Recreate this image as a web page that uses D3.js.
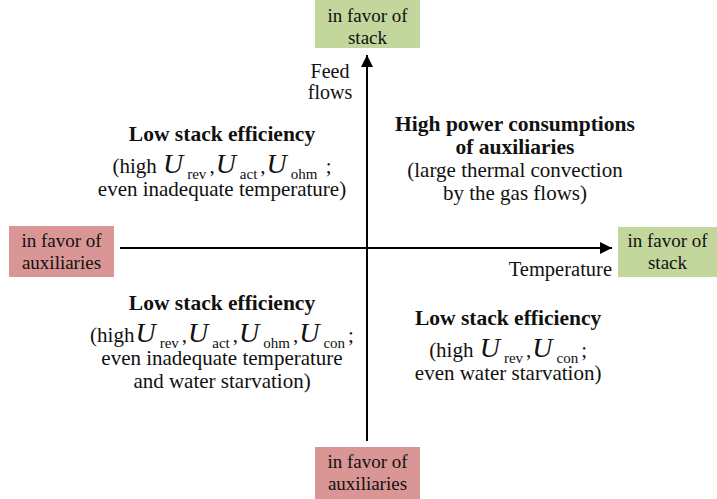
<!DOCTYPE html>
<html>
<head>
<meta charset="utf-8">
<script src="https://d3js.org/d3.v7.min.js"></script>
<style>
  body { margin: 0; background: #fff; }
</style>
</head>
<body>
<div id="viz"></div>
<script>
// axis direction labels
var axisLabels = ["Temperature", "Feed flows"];
// end boxes of the two axes
var boxSides = ["top", "right", "left", "bottom"];
var boxLines = [["in favor of", "stack"], ["in favor of", "stack"], ["in favor of", "auxiliaries"], ["in favor of", "auxiliaries"]];
var boxColors = ["#c3d69b", "#c3d69b", "#d99694", "#d99694"];
// quadrant anchors in axis units (x: temperature, y: feed flows)
var quadX = [-0.587, 0.604, -0.587, 0.576];
var quadY = [0.554, 0.606, -0.321, -0.399];
// quadrant text, each line is a list of [text, style] pieces
var quadLines = [
  [
    [["Low stack efficiency", "b"]],
    [["(high ", "n"], ["U", "U"], ["rev", "s"], [",", "n"], ["U", "U"], ["act", "s"], [",", "n"], ["U", "U"], ["ohm", "s"], [" ;", "n"]],
    [["even inadequate temperature)", "n"]]
  ],
  [
    [["High power consumptions", "b"]],
    [["of auxiliaries", "b"]],
    [["(large thermal convection", "n"]],
    [["by the gas flows)", "n"]]
  ],
  [
    [["Low stack efficiency", "b"]],
    [["(high", "n"], ["U", "U"], ["rev", "s"], [",", "n"], ["U", "U"], ["act", "s"], [",", "n"], ["U", "U"], ["ohm", "s"], [",", "n"], ["U", "U"], ["con", "s"], [";", "n"]],
    [["even inadequate temperature", "n"]],
    [["and water starvation)", "n"]]
  ],
  [
    [["Low stack efficiency", "b"]],
    [["(high ", "n"], ["U", "U"], ["rev", "s"], [",", "n"], ["U", "U"], ["con", "s"], [";", "n"]],
    [["even water starvation)", "n"]]
  ]
];

var W = 717, H = 499;
var FONT = "'Liberation Serif', 'Times New Roman', Tinos, 'Noto Serif', 'DejaVu Serif', serif";
var cx = 367, cy = 248;
var x = d3.scaleLinear().domain([-1, 0, 1]).range([120, cx, 612]);
var y = d3.scaleLinear().domain([-1, 0, 1]).range([441, cy, 55]);

var svg = d3.select("#viz").append("svg")
  .attr("width", W).attr("height", H)
  .style("font-family", FONT);

svg.append("defs").append("marker")
  .attr("id", "arr").attr("viewBox", "0 0 10 10")
  .attr("refX", 10).attr("refY", 5)
  .attr("markerWidth", 14).attr("markerHeight", 12)
  .attr("markerUnits", "userSpaceOnUse")
  .attr("orient", "auto")
  .append("path").attr("d", "M0,0L10,5L0,10Z").attr("fill", "#000");

// axes
svg.append("line")
  .attr("x1", x(-1)).attr("x2", x(1)).attr("y1", y(0)).attr("y2", y(0))
  .attr("stroke", "#000").attr("stroke-width", 2).attr("marker-end", "url(#arr)");
svg.append("line")
  .attr("x1", x(0)).attr("x2", x(0)).attr("y1", y(-1)).attr("y2", y(1))
  .attr("stroke", "#000").attr("stroke-width", 2).attr("marker-end", "url(#arr)");

svg.append("text").attr("x", x(1)).attr("y", y(0) + 28)
  .attr("text-anchor", "end").attr("font-size", 20.5).attr("fill", "#111")
  .text(axisLabels[0]);
axisLabels[1].split(" ").forEach(function(w, i) {
  svg.append("text").attr("x", x(0) - 37).attr("y", 78 + i * 21)
    .attr("text-anchor", "middle").attr("font-size", 20).attr("fill", "#111")
    .text(w);
});

// boxes at the axis ends
var boxPos = {
  top: [315, 0, 105, 48, 22],
  bottom: [315, 447, 105, 52, 468],
  left: [9, 226, 105, 51, 247],
  right: [618, 227, 99, 50, 247]
};
boxSides.forEach(function(side, k) {
  var p = boxPos[side];
  svg.append("rect").attr("x", p[0]).attr("y", p[1]).attr("width", p[2]).attr("height", p[3])
    .attr("fill", boxColors[k]);
  boxLines[k].forEach(function(l, i) {
    svg.append("text").attr("x", p[0] + p[2] / 2).attr("y", p[4] + i * 21.5)
      .attr("text-anchor", "middle").attr("font-size", 19).attr("fill", "#111").text(l);
  });
});

// quadrant text
quadLines.forEach(function(lines, k) {
  var yy = y(quadY[k]);
  lines.forEach(function(line, i) {
    var hasU = line.some(function(p) { return p[1] === "U"; });
    if (i > 0) yy += hasU ? 32 : 23;
    var t = svg.append("text").attr("x", x(quadX[k])).attr("y", yy)
      .attr("text-anchor", "middle").attr("font-size", 21).attr("fill", "#111");
    var shifted = false;
    line.forEach(function(piece) {
      var ts = t.append("tspan").text(piece[0]);
      if (piece[1] === "b") ts.attr("font-weight", "bold").attr("font-size", 21.5);
      if (piece[1] === "U") {
        ts.attr("font-style", "italic").attr("font-size", 28).attr("dx", 1);
        if (shifted) { ts.attr("dy", -6); shifted = false; }
      } else if (piece[1] === "s") {
        ts.attr("font-size", 15).attr("dy", 6).attr("dx", 4); shifted = true;
      } else if (shifted) {
        ts.attr("dy", -6).attr("dx", 3); shifted = false;
      }
    });
  });
});
</script>
</body>
</html>
